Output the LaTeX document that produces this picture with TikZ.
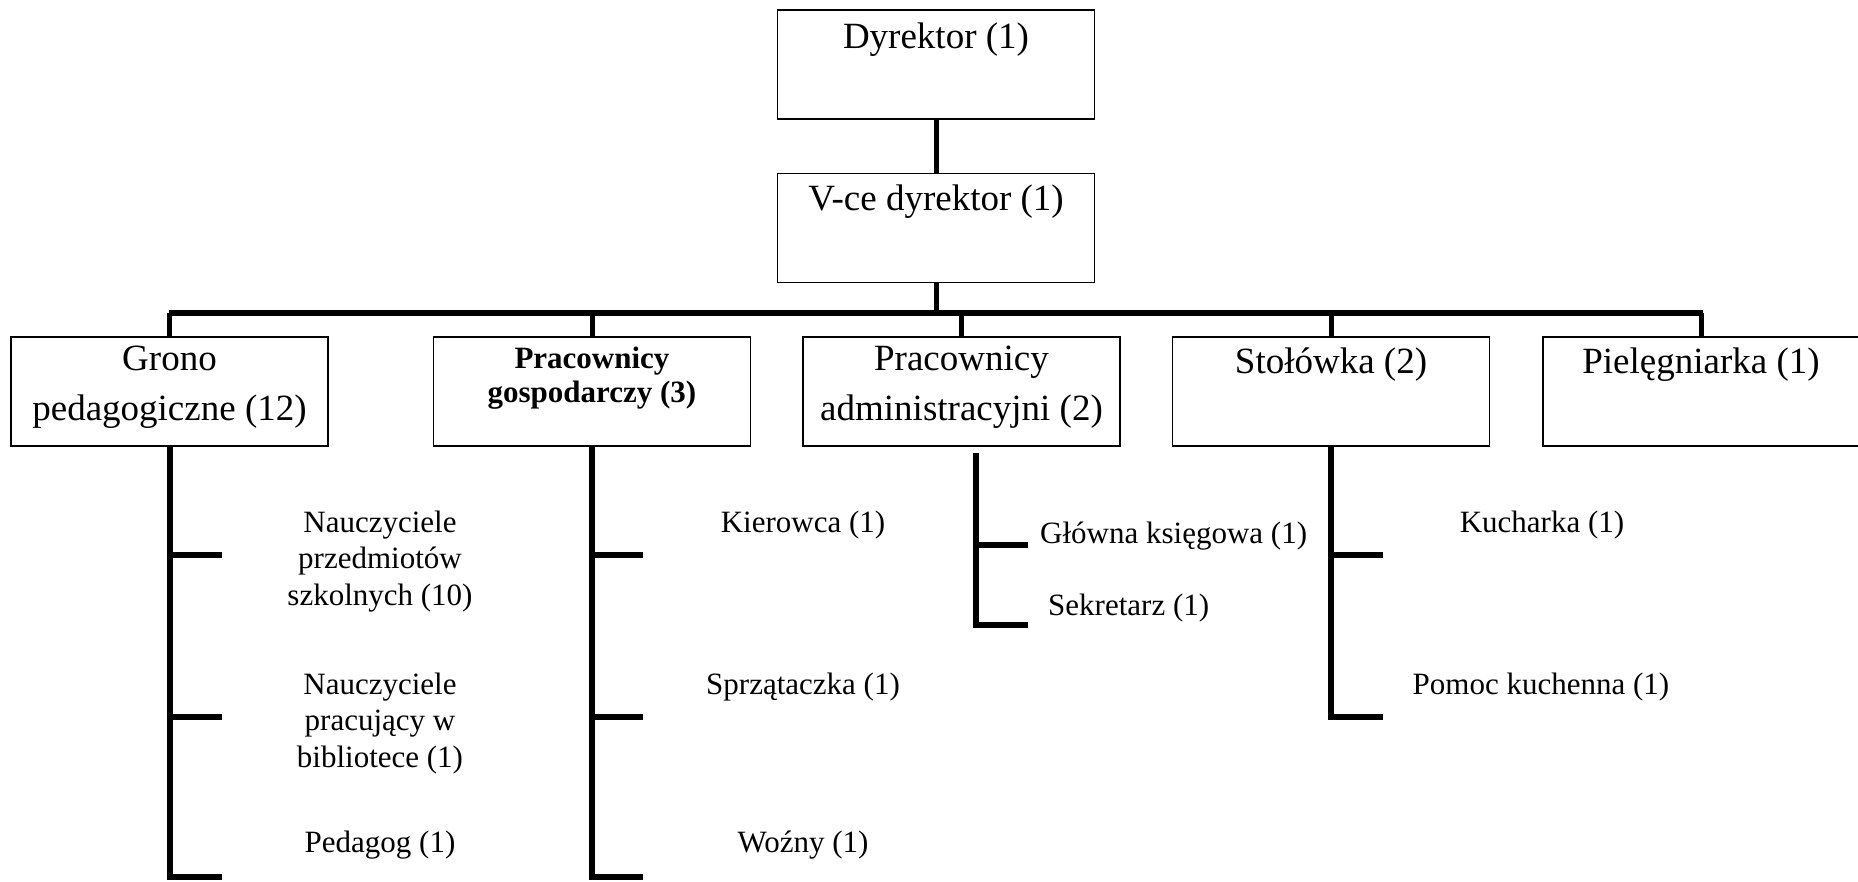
\documentclass[tikz,border=0pt]{standalone}
\usepackage{fontspec}
\setmainfont{Liberation Serif}
\begin{document}
\begin{tikzpicture}[x=1pt,y=-1pt,
  box/.style={draw, line width=1.3pt, minimum width=317pt, minimum height=109pt, inner sep=0pt},
  big/.style={font=\fontsize{37}{50}\selectfont, align=center, anchor=base, inner sep=0pt},
  bsmall/.style={font=\bfseries\fontsize{31}{34}\selectfont, align=center, anchor=base, inner sep=0pt},
  small/.style={font=\fontsize{31}{36.5}\selectfont, align=center, anchor=base, inner sep=0pt},
  conn/.style={line width=5pt},
  busline/.style={line width=6pt},
  col/.style={line width=6pt}]
\useasboundingbox (0,0) rectangle (1858,881);

% boxes
\node[box] (dyr) at (936,64.5) {};
\node[box] (vce) at (936,228) {};
\node[box] (g)  at (169.5,391.5) {};
\node[box] (pg) at (592,391.5) {};
\node[box] (pa) at (961.5,391.5) {};
\node[box] (st) at (1331,391.5) {};
\node[box] (pi) at (1701.5,391.5) {};

% box texts (base = baseline of last line)
\node[big] (dyrT) at (936,48) {Dyrektor (1)};
\node[big] (vceT) at (936,210) {V-ce dyrektor (1)};
\node[big] (gT) at (169.5,420) {Grono\\pedagogiczne (12)};
\node[bsmall] (pgT) at (592,402) {Pracownicy\\gospodarczy (3)};
\node[big] (paT) at (961.5,420) {Pracownicy\\administracyjni (2)};
\node[big] (stT) at (1331,373) {Stołówka (2)};
\node[big] (piT) at (1701,373) {Pielęgniarka (1)};

% bus
\coordinate (busL) at (169,313);
\coordinate (busR) at (1703,313);
\draw[conn] (dyr.south) -- (vce.north);
\draw[conn] (vce.south) -- (vce.south |- busL);
\draw[busline] (busL) -- (busR);
\foreach \b in {g,pg,pa,st,pi}{
  \draw[conn] (\b.north |- busL) -- (\b.north);
}

% Grono column
\coordinate (gB) at (169.5,877);
\coordinate (g1) at (222,555);
\coordinate (g2) at (222,717);
\coordinate (g3) at (222,877);
\draw[col] (g.south) -- (gB) -- (g3);
\draw[col] (g1 -| gB) -- (g1);
\draw[col] (g2 -| gB) -- (g2);
\node[small] (n1) at (380,605) {Nauczyciele\\przedmiotów\\szkolnych (10)};
\node[small] (n2) at (380,767) {Nauczyciele\\pracujący w\\bibliotece (1)};
\node[small] (n3) at (380,852) {Pedagog (1)};

% Gospodarczy column
\coordinate (pB) at (592,877);
\coordinate (p1) at (643,555);
\coordinate (p2) at (643,717);
\coordinate (p3) at (643,877);
\draw[col] (pg.south) -- (pB) -- (p3);
\draw[col] (p1 -| pB) -- (p1);
\draw[col] (p2 -| pB) -- (p2);
\node[small] (k1) at (803,532) {Kierowca (1)};
\node[small] (k2) at (803,694) {Sprzątaczka (1)};
\node[small] (k3) at (803,852) {Woźny (1)};

% Administracyjni column
\coordinate (aT) at (976,453);
\coordinate (aB) at (976,625);
\coordinate (a1) at (1028,545);
\coordinate (a2) at (1028,625);
\draw[col] (aT) -- (aB) -- (a2);
\draw[col] (a1 -| aT) -- (a1);
\node[small, anchor=base west] (ak) at (1040,543) {Główna księgowa (1)};
\node[small, anchor=base west] (as) at (1048,615) {Sekretarz (1)};

% Stolowka column
\coordinate (sB) at (1331,717);
\coordinate (s1) at (1383,555);
\coordinate (s2) at (1383,717);
\draw[col] (st.south) -- (sB) -- (s2);
\draw[col] (s1 -| sB) -- (s1);
\node[small] (sk) at (1542,532) {Kucharka (1)};
\node[small] (sp) at (1541,694) {Pomoc kuchenna (1)};
\end{tikzpicture}
\end{document}
